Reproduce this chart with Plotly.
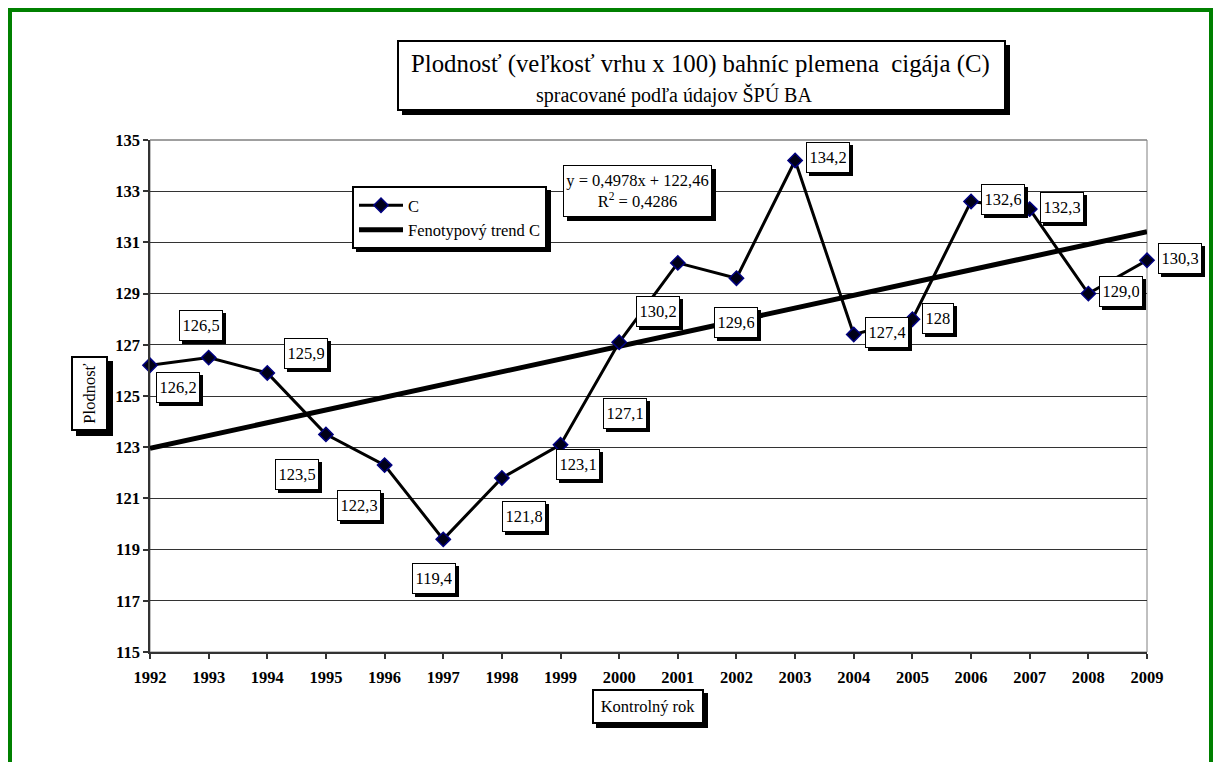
import plotly.graph_objects as go

# Fertility of ewes (litter size x 100), breed cigája, by control year
years = list(range(1992, 2010))
value_labels = ["126,2", "126,5", "125,9", "123,5", "122,3", "119,4", "121,8", "123,1", "127,1",
                "130,2", "129,6", "134,2", "127,4", "128", "132,6", "132,3", "129,0", "130,3"]
plodnost = [float(s.replace(",", ".")) for s in value_labels]

# linear phenotypic trend (x = 1 .. n)
trend_slope = 0.4978
trend_intercept = 122.46
r_squared = 0.4286
trend = [trend_intercept + trend_slope * (i + 1) for i in range(len(years))]

y_ticks = list(range(115, 137, 2))

title_text = "Plodnosť (veľkosť vrhu x 100) bahníc plemena\u00a0 cigája (C)"
subtitle_text = "spracované podľa údajov ŠPÚ BA"

# pixel offsets (dx right, dy down) of each value label from its point
label_offsets = [(28, 22), (-8, -32), (39, -19), (-29, 40), (-26, 40), (-9, 39), (22, 39),
                 (17, 20), (6, 71), (-20, 49), (0, 44), (33, -3), (33, -2), (26, -1),
                 (32, -2), (32, -2), (33, -2), (33, -2)]

FONT = "Liberation Serif, Times New Roman, serif"
W, H = 1214, 762
L, R, T, B = 150, 67, 140, 110
PW, PH = W - L - R, H - T - B


def px(x):
    return (x - L) / PW


def py(y):
    return (H - B - y) / PH


fig = go.Figure()

fig.add_trace(go.Scatter(
    x=years, y=trend, mode="lines", name="Fenotypový trend C",
    line=dict(color="black", width=5), hoverinfo="skip"))

fig.add_trace(go.Scatter(
    x=years, y=plodnost, mode="lines+markers", name="C",
    line=dict(color="black", width=3),
    marker=dict(symbol="diamond", size=11, color="#000018",
                line=dict(color="#000080", width=1.5)),
    cliponaxis=False))

annotations = []


def boxed(text, x, y, xref, yref, size, bw, shadow, xshift=0, yshift=0,
          width=None, height=None, pad=0, textangle=0):
    common = dict(x=x, y=y, xref=xref, yref=yref, text=text, showarrow=False,
                  xanchor="center", yanchor="middle", borderwidth=bw, borderpad=pad,
                  width=width, height=height, textangle=textangle)
    annotations.append(dict(common, xshift=xshift + shadow, yshift=yshift - shadow,
                            bgcolor="black", bordercolor="black",
                            font=dict(family=FONT, size=size, color="black")))
    annotations.append(dict(common, xshift=xshift, yshift=yshift,
                            bgcolor="white", bordercolor="black",
                            font=dict(family=FONT, size=size, color="black")))


for yr, v, lab, (dx, dy) in zip(years, plodnost, value_labels, label_offsets):
    boxed(lab, yr, v, "x", "y", 16.5, 1, 3, xshift=dx, yshift=-dy, height=24, pad=2.5)

# chart title (box drawn as shapes below)
annotations.append(dict(x=px(700), y=py(64), xref="paper", yref="paper", text=title_text,
                        showarrow=False, xanchor="center", yanchor="middle",
                        font=dict(family=FONT, size=24.8, color="black")))
annotations.append(dict(x=px(674), y=py(95), xref="paper", yref="paper", text=subtitle_text,
                        showarrow=False, xanchor="center", yanchor="middle",
                        font=dict(family=FONT, size=20, color="black")))

# regression equation
boxed(f"y = {trend_slope:.4f}x + {trend_intercept:.2f}".replace(".", ",") +
      f"<br>R<sup>2</sup> = {r_squared:.4f}".replace(".", ","),
      px(637.5), py(191), "paper", "paper", 16.5, 1, 4, width=147, height=50)

# axis titles
boxed("Plodnosť", px(89.5), py(393.5), "paper", "paper", 16.5, 2, 5,
      width=71, height=33, textangle=-90)
boxed("Kontrolný rok", px(648), py(706.5), "paper", "paper", 16.5, 2, 4,
      width=108, height=31)

shapes = [
    # green frame around the whole chart
    dict(type="rect", xref="paper", yref="paper", x0=px(10), x1=px(1211), y0=py(10), y1=py(820),
         line=dict(color="#008000", width=4), layer="below"),
    # plot area border
    dict(type="rect", xref="paper", yref="paper", x0=0, x1=1, y0=0, y1=1,
         line=dict(color="#808080", width=1), layer="below"),
    dict(type="line", xref="paper", yref="paper", x0=0, x1=1, y0=1, y1=1,
         line=dict(color="#808080", width=1), layer="above"),
    # title box with shadow
    dict(type="rect", xref="paper", yref="paper", x0=px(402), x1=px(1010), y0=py(45), y1=py(115),
         line=dict(width=0), fillcolor="black", layer="above"),
    dict(type="rect", xref="paper", yref="paper", x0=px(398), x1=px(1005), y0=py(41), y1=py(110),
         line=dict(color="black", width=2), fillcolor="white", layer="above"),
    # legend shadow
    dict(type="rect", xref="paper", yref="paper", x0=px(356), x1=px(551), y0=py(190), y1=py(252),
         line=dict(width=0), fillcolor="black", layer="above"),
]

fig.update_layout(
    width=W, height=H, autosize=False,
    margin=dict(l=L, r=R, t=T, b=B, pad=0),
    paper_bgcolor="white", plot_bgcolor="white",
    font=dict(family=FONT, size=16.5, color="black"),
    showlegend=True,
    legend=dict(x=px(352), y=py(186), xanchor="left", yanchor="top",
                bgcolor="white", bordercolor="black", borderwidth=2,
                font=dict(family=FONT, size=16.5, color="black"),
                traceorder="reversed", itemwidth=44),
    annotations=annotations,
    shapes=shapes,
    xaxis=dict(range=[1992, 2009], tickvals=years, ticktext=[str(y) for y in years],
               showgrid=False, zeroline=False, showline=True, linecolor="#333333", linewidth=2,
               ticks="outside", ticklen=5, tickcolor="#333333", tickwidth=1.5,
               ticklabelstandoff=4,
               tickfont=dict(family=FONT, size=16.5, color="black", weight="bold")),
    yaxis=dict(range=[115, 135], tickvals=y_ticks, showgrid=True, gridcolor="#333333",
               gridwidth=1, zeroline=False, showline=True, linecolor="#333333", linewidth=1.5,
               ticks="outside", ticklen=5, tickcolor="#333333", tickwidth=1.5,
               tickfont=dict(family=FONT, size=16.5, color="black", weight="bold")),
)

fig.write_html("out.html")
